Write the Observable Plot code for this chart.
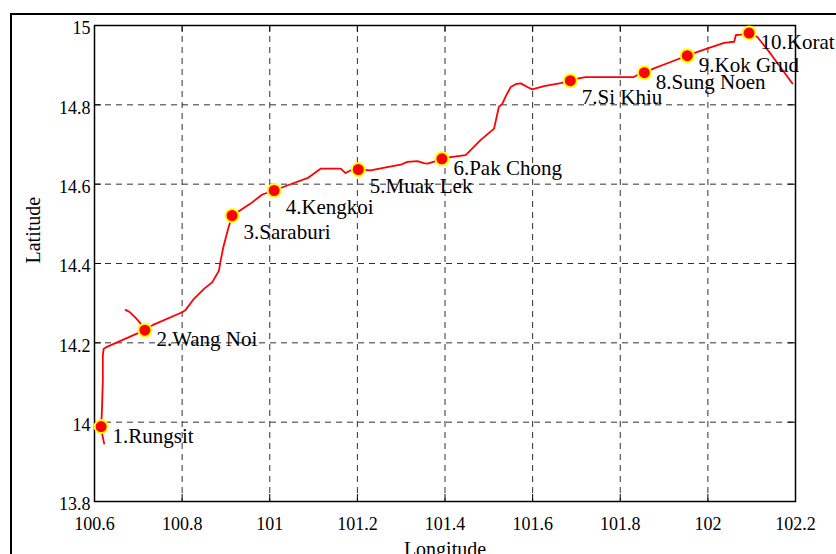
<!DOCTYPE html>
<html>
<head>
<meta charset="utf-8">
<script src="https://cdn.jsdelivr.net/npm/d3@7"></script>
<script src="https://cdn.jsdelivr.net/npm/@observablehq/plot@0.6"></script>
<style>
html, body { margin: 0; padding: 0; background: #fff; }
#wrap { position: relative; width: 836px; height: 554px; overflow: hidden; background: #fff; }
#chart { position: absolute; left: 0; top: 0; }
#chart text { font-family: 'Liberation Serif', 'Times New Roman', Times, serif; }
#border { position: absolute; left: 10px; top: 13px; width: 900px; height: 700px;
  border-left: 2px solid #000; border-top: 2px solid #000; pointer-events: none; }
</style>
</head>
<body>
<div id="wrap"><div id="chart"></div><div id="border"></div></div>
<script>
// ---- data ----
const xTicks = [100.6, 100.8, 101, 101.2, 101.4, 101.6, 101.8, 102, 102.2];
const yTicks = [13.8, 14, 14.2, 14.4, 14.6, 14.8, 15];

const stationNames = ["Rungsit", "Wang Noi", "Saraburi", "Kengkoi", "Muak Lek",
  "Pak Chong", "Si Khiu", "Sung Noen", "Kok Grud", "Korat"];
const stationLon = [100.615, 100.715, 100.914, 101.010, 101.202,
  101.393, 101.686, 101.855, 101.953, 102.094];
const stationLat = [13.989, 14.232, 14.521, 14.584, 14.637,
  14.664, 14.861, 14.881, 14.924, 14.981];

const routeLon = [100.622, 100.617, 100.615, 100.617, 100.619, 100.619, 100.621, 100.627, 100.715, 100.735,
  100.800, 100.808, 100.827, 100.850, 100.869, 100.884, 100.888, 100.894, 100.904, 100.914,
  100.933, 100.956, 100.983, 101.010, 101.055, 101.086, 101.105, 101.116, 101.162, 101.173,
  101.185, 101.202, 101.230, 101.268, 101.299, 101.314, 101.337, 101.352, 101.360, 101.375,
  101.393, 101.413, 101.447, 101.458, 101.481, 101.512, 101.523, 101.531, 101.538, 101.550,
  101.561, 101.573, 101.588, 101.599, 101.626, 101.664, 101.686, 101.702, 101.721, 101.748,
  101.831, 101.839, 101.855, 101.877, 101.915, 101.953, 101.991, 102.037, 102.060, 102.064,
  102.075, 102.094, 102.113, 102.143, 102.193];
const routeLat = [13.946, 13.973, 13.989, 14.029, 14.105, 14.168, 14.185, 14.189, 14.232, 14.246,
  14.277, 14.283, 14.311, 14.336, 14.353, 14.382, 14.408, 14.441, 14.483, 14.521,
  14.534, 14.551, 14.574, 14.584, 14.603, 14.615, 14.630, 14.639, 14.639, 14.628,
  14.635, 14.637, 14.635, 14.643, 14.649, 14.656, 14.658, 14.653, 14.652, 14.657,
  14.664, 14.668, 14.673, 14.685, 14.711, 14.740, 14.795, 14.803, 14.820, 14.845,
  14.852, 14.854, 14.845, 14.839, 14.847, 14.855, 14.861, 14.866, 14.870, 14.870,
  14.870, 14.875, 14.881, 14.892, 14.908, 14.924, 14.939, 14.956, 14.959, 14.976,
  14.977, 14.981, 14.971, 14.929, 14.854];

const spurLon = [100.671, 100.681, 100.694, 100.705, 100.715];
const spurLat = [14.283, 14.277, 14.263, 14.249, 14.232];

// ---- tables built from the arrays ----
const stations = stationNames.map((n, i) => ({
  idx: i + 1, label: `${i + 1}.${n}`, lon: stationLon[i], lat: stationLat[i]
}));
const route = [
  ...routeLon.map((lon, i) => ({seg: "main", lon, lat: routeLat[i]})),
  ...spurLon.map((lon, i) => ({seg: "spur", lon, lat: spurLat[i]}))
];

// ---- layout ----
const W = 836, H = 554, mL = 94, mT = 25, mR = 41, mB = 53;
const plotW = W - mL - mR, plotH = H - mT - mB, tickLen = 7;
const serif = "'Liberation Serif', 'Times New Roman', Times, serif";
const deeper = new Set([3, 4, 5, 7]);
const gridStyle = {stroke: "#000", strokeOpacity: 0.9, strokeWidth: 0.9, strokeDasharray: "6,5"};

const chart = Plot.plot({
  width: W, height: H,
  marginLeft: mL, marginTop: mT, marginRight: mR, marginBottom: mB,
  x: {domain: [100.6, 102.2]},
  y: {domain: [13.8, 15]},
  style: {background: "transparent", fontFamily: serif, fontSize: "18px", color: "#000"},
  marks: [
    Plot.gridX(xTicks, gridStyle),
    Plot.gridY(yTicks, gridStyle),
    Plot.ruleX(xTicks, {x: d => d, insetTop: plotH - tickLen, stroke: "#000"}),
    Plot.ruleX(xTicks, {x: d => d, insetBottom: plotH - tickLen, stroke: "#000"}),
    Plot.ruleY(yTicks, {y: d => d, insetRight: plotW - tickLen, stroke: "#000"}),
    Plot.ruleY(yTicks, {y: d => d, insetLeft: plotW - tickLen, stroke: "#000"}),
    Plot.frame({stroke: "#000", strokeWidth: 1.5}),
    Plot.axisX(xTicks, {tickSize: 0, tickPadding: 16, tickFormat: d => String(d), label: null,
      fontSize: 18, fontFamily: serif}),
    Plot.axisY(yTicks, {tickSize: 0, tickPadding: 4, tickFormat: d => String(d), label: null,
      fontSize: 18, fontFamily: serif, dy: 3}),
    Plot.line(route, {x: "lon", y: "lat", z: "seg", stroke: "#ff0000", strokeWidth: 1.8}),
    Plot.dot(stations, {x: "lon", y: "lat", r: 6.5, fill: "#ff0000", stroke: "#ffff00", strokeWidth: 2}),
    Plot.text(stations.filter(d => !deeper.has(d.idx)), {x: "lon", y: "lat", text: "label",
      textAnchor: "start", lineAnchor: "bottom", dx: 11.5, dy: 16, fontSize: 21, fontFamily: serif, fill: "#000"}),
    Plot.text(stations.filter(d => deeper.has(d.idx)), {x: "lon", y: "lat", text: "label",
      textAnchor: "start", lineAnchor: "bottom", dx: 11.5, dy: 23.5, fontSize: 21, fontFamily: serif, fill: "#000"}),
    Plot.text(["Longitude"], {text: d => d, frameAnchor: "bottom", lineAnchor: "bottom", dy: 54,
      fontSize: 20, fontFamily: serif}),
    Plot.text(["Latitude"], {text: d => d, frameAnchor: "left", rotate: -90, dx: -61,
      fontSize: 20, fontFamily: serif})
  ]
});
document.getElementById("chart").appendChild(chart);
</script>
</body>
</html>
